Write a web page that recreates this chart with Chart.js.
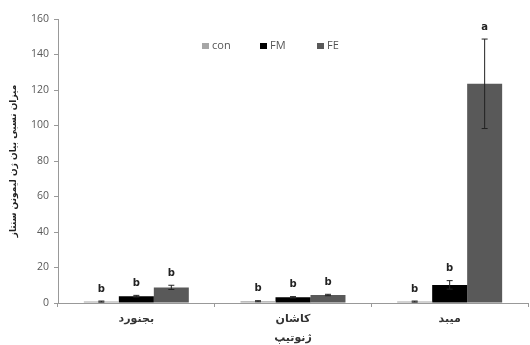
<!DOCTYPE html>
<html>
<head>
<meta charset="utf-8">
<script src="https://cdn.jsdelivr.net/npm/chart.js@4"></script>
<style>
  html, body { margin: 0; padding: 0; background: #fff; }
  #wrap { width: 530px; height: 345px; }
</style>
</head>
<body>
<div id="wrap"><canvas id="geneChart" width="530" height="345"></canvas></div>
<script>
const genotypes = ['بجنورد', 'کاشان', 'میبد'];
const conValues = [0.8, 1.0, 0.8];
const fmValues = [3.8, 3.2, 10.2];
const feValues = [8.8, 4.5, 123.5];
const conErrors = [0.3, 0.3, 0.3];
const fmErrors = [0.5, 0.4, 2.4];
const feErrors = [1.2, 0.4, 25.2];
const conLetters = ['b', 'b', 'b'];
const fmLetters = ['b', 'b', 'b'];
const feLetters = ['b', 'b', 'a'];
const yTicks = [0, 20, 40, 60, 80, 100, 120, 140, 160];

const errorBarPlugin = {
    id: 'errorBars',
    afterDatasetsDraw(chart) {
        const ctx = chart.ctx;
        const y = chart.scales.y;
        ctx.save();
        chart.data.datasets.forEach((ds, di) => {
            const meta = chart.getDatasetMeta(di);
            meta.data.forEach((bar, i) => {
                const v = ds.data[i];
                const e = ds.errors[i];
                const yTop = y.getPixelForValue(v + e);
                const yBot = y.getPixelForValue(v - e);
                ctx.strokeStyle = '#222';
                ctx.lineWidth = 1;
                ctx.beginPath();
                ctx.moveTo(bar.x, yTop);
                ctx.lineTo(bar.x, yBot);
                ctx.moveTo(bar.x - 3, yTop);
                ctx.lineTo(bar.x + 3, yTop);
                ctx.moveTo(bar.x - 3, yBot);
                ctx.lineTo(bar.x + 3, yBot);
                ctx.stroke();
                ctx.fillStyle = '#222';
                ctx.font = 'bold 10px "DejaVu Sans", sans-serif';
                ctx.textAlign = 'center';
                ctx.textBaseline = 'middle';
                ctx.fillText(ds.letters[i], bar.x, yTop - 12);
            });
        });
        ctx.restore();
    }
};

const legendPlugin = {
    id: 'innerLegend',
    afterDraw(chart) {
        const ctx = chart.ctx;
        const spots = [202, 260, 317];
        ctx.save();
        ctx.font = '11px "Open Sans", sans-serif';
        ctx.textBaseline = 'middle';
        ctx.textAlign = 'left';
        chart.data.datasets.forEach((ds, di) => {
            const x = spots[di];
            ctx.fillStyle = ds.backgroundColor;
            ctx.fillRect(x, 43, 7, 6);
            ctx.fillStyle = '#555';
            ctx.fillText(ds.label, x + 10, 46);
        });
        ctx.restore();
    }
};

const ctx = document.getElementById('geneChart').getContext('2d');
new Chart(ctx, {
    type: 'bar',
    data: {
        labels: genotypes,
        datasets: [
            {label: 'con', data: conValues, errors: conErrors, letters: conLetters, backgroundColor: '#a6a6a6'},
            {label: 'FM', data: fmValues, errors: fmErrors, letters: fmLetters, backgroundColor: '#000000'},
            {label: 'FE', data: feValues, errors: feErrors, letters: feLetters, backgroundColor: '#595959'}
        ]
    },
    options: {
        responsive: false,
        animation: false,
        layout: {padding: {top: 19, right: 2, left: 0, bottom: 0}},
        datasets: {
            bar: {barPercentage: 1, categoryPercentage: 0.67}
        },
        plugins: {
            legend: {display: false},
            tooltip: {enabled: false}
        },
        scales: {
            x: {
                grid: {display: true, drawOnChartArea: false, color: '#999', tickLength: 4, offset: true},
                border: {color: '#999'},
                ticks: {color: '#333', font: {size: 11, weight: 'bold', family: '"DejaVu Sans", sans-serif'}, padding: 6},
                title: {display: true, text: 'ژنوتیپ', color: '#333', font: {size: 11, weight: 'bold', family: '"DejaVu Sans", sans-serif'}, padding: {top: 3, bottom: 0}},
                afterFit(scale) { scale.height = 42; }
            },
            y: {
                min: 0,
                max: 160,
                afterBuildTicks(scale) { scale.ticks = yTicks.map(v => ({value: v})); },
                grid: {display: true, drawOnChartArea: false, color: '#999', tickLength: 4},
                border: {color: '#999'},
                ticks: {color: '#595959', font: {size: 10.5, family: '"Open Sans", sans-serif'}, padding: 5},
                title: {display: true, text: 'میزان نسبی بیان ژن لیمونن سنتاز', color: '#222', font: {size: 9, weight: 'bold', family: '"DejaVu Sans", sans-serif'}, padding: {top: 8, bottom: 2}},
                afterFit(scale) { scale.width = 58; }
            }
        }
    },
    plugins: [errorBarPlugin, legendPlugin]
});
</script>
</body>
</html>
